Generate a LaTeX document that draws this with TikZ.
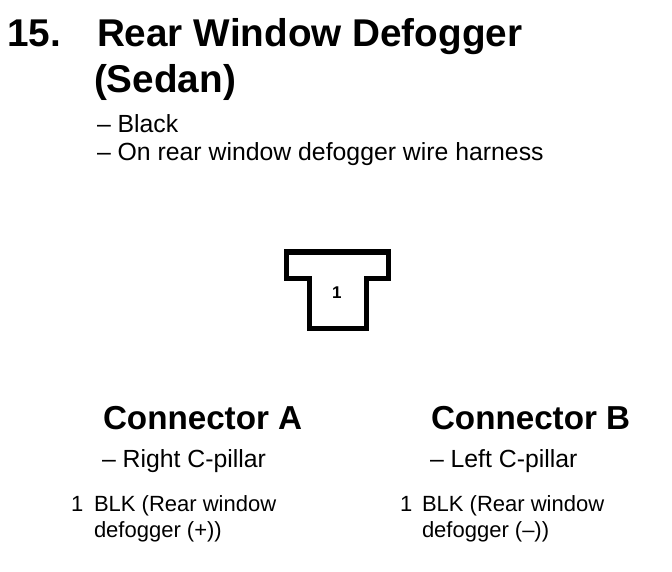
\documentclass[tikz,border=0pt]{standalone}
\usepackage{fontspec}
\setmainfont{Liberation Sans}
\tikzset{
  tx/.style={anchor=base west,inner sep=0pt,outer sep=0pt},
  title/.style={tx,font=\fontsize{38.7}{40}\selectfont\bfseries},
  head/.style={tx,font=\fontsize{33.2}{36}\selectfont\bfseries},
  body/.style={tx,font=\fontsize{24.8}{28}\selectfont},
  small/.style={tx,font=\fontsize{22}{26}\selectfont},
  outline/.style={draw=black,line width=5pt,line join=miter},
}
\begin{document}
\begin{tikzpicture}[x=1pt,y=-1pt]
\useasboundingbox[fill=white] (0,0) rectangle (672,572);
\node[title] (n) at (7,47) {15.};
\node[title] (t1) at (97,47) {Rear Window Defogger};
\node[title] (t2) at (94,93) {(Sedan)};
\node[body] (b1) at (97,133) {– Black};
\node[body] (b2) at (97,161) {– On rear window defogger wire harness};
\draw[outline] (286.5,278.5) -- (286.5,252) -- (388,252) -- (388,278.5) -- (366.5,278.5) -- (366.5,328) -- (309.5,328) -- (309.5,278.5) -- cycle;
\node[tx,font=\fontsize{17}{18}\selectfont\bfseries] (pin) at (332,298) {1};
\node[head] (ca) at (103,429) {Connector A};
\node[head] (cb) at (431,429) {Connector B};
\node[body] (la) at (102,467) {– Right C-pillar};
\node[body] (lb) at (430,467) {– Left C-pillar};
\node[small] (a0) at (71,511) {1};
\node[small] (a1) at (94,511) {BLK (Rear window};
\node[small] (a2) at (94,537) {defogger (+))};
\node[small] (b0) at (400,511) {1};
\node[small] (b3) at (422,511) {BLK (Rear window};
\node[small] (b4) at (422,537) {defogger (–))};
\end{tikzpicture}
\end{document}
